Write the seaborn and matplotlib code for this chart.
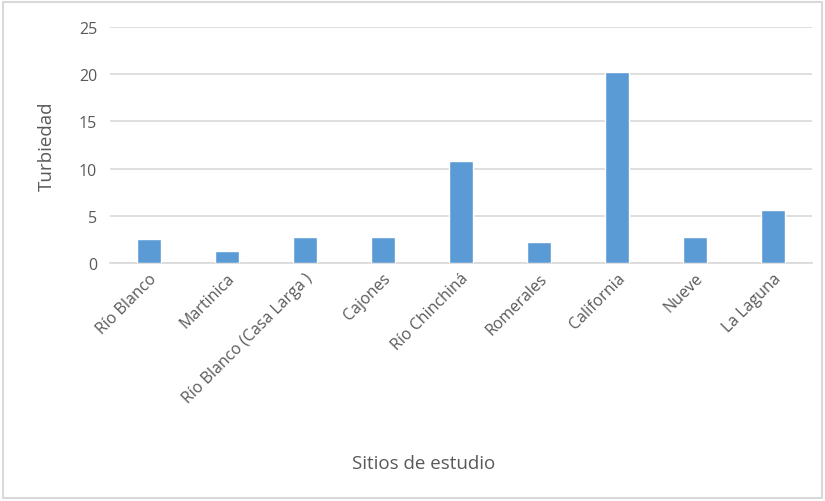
import matplotlib
matplotlib.use("Agg")
import matplotlib.pyplot as plt
import seaborn as sns
import pandas as pd
from matplotlib.patches import Rectangle

sitios = ["Río Blanco", "Martinica", "Río Blanco (Casa Larga )", "Cajones",
          "Río Chinchiná", "Romerales", "California", "Nueve", "La Laguna"]
turbiedad = [2.55, 1.3, 2.8, 2.8, 10.8, 2.25, 20.2, 2.8, 5.65]

df = pd.DataFrame({"Sitio": sitios, "Turbiedad": turbiedad})

sns.set_theme(style="white")
plt.rcParams['font.family'] = ['Open Sans', 'DejaVu Sans']
txt = "#595959"

fig = plt.figure(figsize=(8.25, 5.02), dpi=100)
ax = fig.add_axes([0.133, 0.474, 0.851, 0.470])
sns.barplot(data=df, x="Sitio", y="Turbiedad", color="#5B9BD5", width=0.31,
            saturation=1, ax=ax, zorder=3)
ax.set_ylim(0, 25)
ax.set_yticks([0, 5, 10, 15, 20, 25])
ax.yaxis.grid(True, color="#D9D9D9", linewidth=1.2, zorder=0)
ax.set_axisbelow(True)
for s in ["top", "right", "left"]:
    ax.spines[s].set_visible(False)
ax.spines["bottom"].set_color("#D9D9D9")
ax.spines["bottom"].set_linewidth(1.2)
ax.tick_params(axis="both", length=0, colors=txt, labelsize=11.5)
ax.tick_params(axis="y", pad=9)
ax.tick_params(axis="x", pad=5)
plt.setp(ax.get_xticklabels(), rotation=45, ha="right", rotation_mode="anchor")
ax.set_xlabel("Sitios de estudio", color=txt, fontsize=13.5)
ax.set_ylabel("Turbiedad", color=txt, fontsize=13.5)
ax.xaxis.set_label_coords(0.447, -0.81)
ax.yaxis.set_label_coords(-0.077, 0.5)

fig.patches.append(Rectangle((0.004, 0.006), 0.992, 0.988, transform=fig.transFigure,
                             fill=False, edgecolor="#D9D9D9", linewidth=1.5))
fig.savefig("out.png", dpi=100)
